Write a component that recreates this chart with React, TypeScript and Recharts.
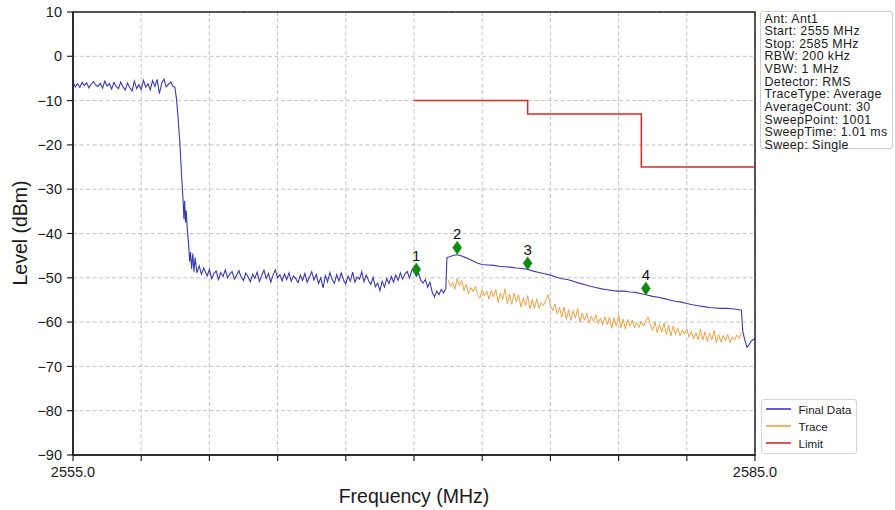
import React from 'react';
import { ComposedChart, Line, Scatter, XAxis, YAxis, CartesianGrid, ReferenceArea } from 'recharts';

const FONT = '"Liberation Sans", Arial, Helvetica, sans-serif';

// Final Data: passband, sampled every 0.1 MHz from 2555.0
const passbandStart = 2555.0;
const passbandLevels = [
  -5.8, -6.9, -6.2, -7.0, -5.9, -6.6, -6.0, -7.1, -6.3, -5.7,
  -6.5, -6.8, -6.1, -7.2, -5.6, -6.7, -6.2, -7.4, -5.9, -6.8,
  -7.3, -5.8, -6.9, -7.6, -6.0, -7.1, -7.8, -5.6, -7.3, -6.4,
  -7.5, -5.4, -7.0, -6.2, -7.6, -5.5, -6.8, -5.2, -8.4, -6.1,
  -5.1, -6.9, -6.3, -5.8, -6.8,
];
// Final Data: band edge (freq, level)
const edgePoints: [number, number][] = [
  [2559.48, -6.9], [2559.55, -9.5], [2559.62, -13.6], [2559.7, -19.6], [2559.78, -27.2],
  [2559.85, -33.2], [2559.88, -36.8], [2559.91, -32.6], [2559.95, -37.5], [2559.98, -34.8],
  [2560.02, -38.6], [2560.08, -42.0], [2560.13, -46.3], [2560.17, -44.2], [2560.22, -48.0],
  [2560.27, -44.5], [2560.32, -48.6], [2560.37, -45.4], [2560.45, -48.9], [2560.55, -47.3],
  [2560.65, -49.2], [2560.75, -47.8],
];
// Final Data: floor, sampled every 0.1 MHz from 2560.8
const floorStart = 2560.8;
const floorLevels = [
  -48.4, -49.6, -48.1, -50.2, -49.0, -48.5, -50.4, -48.8, -49.7, -48.2,
  -50.0, -49.1, -48.6, -50.3, -49.4, -48.4, -49.9, -50.6, -48.9, -49.8,
  -50.9, -49.2, -50.1, -48.7, -50.8, -49.5, -48.3, -50.2, -49.0, -51.0,
  -49.4, -48.2, -50.0, -49.3, -50.7, -49.1, -50.4, -48.9, -50.8, -49.6,
  -50.2, -51.1, -49.4, -50.6, -49.0, -51.0, -49.8, -48.6, -50.5, -49.2,
  -51.3, -50.0, -52.3, -49.5, -50.9, -48.8, -50.4, -51.2, -49.3, -50.7,
  -48.9, -50.5, -51.4, -49.6, -50.8, -48.7, -51.0, -49.8, -50.3, -48.6,
  -50.9, -49.4, -50.6, -51.5, -49.9, -52.0, -51.2, -52.9, -50.8, -52.1,
  -50.2, -51.3, -49.7, -51.0, -49.4, -50.6, -48.9, -50.3, -49.1, -48.6,
  -50.0, -48.4, -47.8, -49.7, -49.0, -50.6, -51.2, -50.4, -52.1, -51.0,
  -53.2, -54.3, -53.0, -53.8, -52.6, -53.4, -52.4,
];
// Final Data: upper band (freq, level)
const upperPoints: [number, number][] = [
  [2571.45, -45.4], [2571.6, -45.2], [2571.75, -44.9], [2571.9, -44.8], [2572.1, -45.1],
  [2572.3, -45.5], [2572.55, -46.1], [2572.8, -46.7], [2573.0, -47.0], [2573.25, -47.1],
  [2573.5, -47.2], [2573.75, -47.4], [2574.0, -47.5], [2574.25, -47.6], [2574.5, -47.8],
  [2574.75, -47.9], [2575.0, -48.1], [2575.25, -48.5], [2575.5, -48.8], [2575.75, -49.1],
  [2576.0, -49.4], [2576.25, -49.8], [2576.5, -50.2], [2576.75, -50.4], [2577.0, -50.8],
  [2577.25, -51.2], [2577.5, -51.5], [2577.75, -51.9], [2578.0, -52.2], [2578.25, -52.5],
  [2578.5, -52.7], [2578.75, -52.9], [2579.0, -53.0], [2579.25, -53.0], [2579.5, -53.2],
  [2579.75, -53.3], [2580.0, -53.6], [2580.25, -53.9], [2580.5, -54.2], [2580.75, -54.4],
  [2581.0, -54.7], [2581.25, -55.0], [2581.5, -55.3], [2581.75, -55.5], [2582.0, -55.8],
  [2582.25, -56.1], [2582.5, -56.3], [2582.75, -56.5], [2583.0, -56.7], [2583.25, -56.8],
  [2583.5, -56.9], [2583.75, -56.9], [2584.0, -57.0], [2584.2, -57.1], [2584.4, -57.3],
  [2584.46, -62.0], [2584.55, -64.0], [2584.65, -65.7], [2584.75, -65.0], [2584.85, -64.2],
  [2585.0, -63.7],
];
// Trace, sampled every 0.1 MHz from 2571.5
const traceStart = 2571.5;
const traceLevels = [
  -50.4, -52.0, -51.1, -52.6, -50.2, -51.8, -50.6, -52.9, -51.5, -53.6,
  -52.2, -53.1, -51.9, -53.8, -54.6, -52.7, -54.1, -53.0, -54.8, -52.9,
  -54.3, -52.6, -55.6, -53.4, -54.9, -52.5, -55.8, -53.7, -56.0, -53.5,
  -55.4, -53.8, -56.6, -54.5, -56.3, -54.0, -57.0, -54.9, -56.9, -54.7,
  -56.8, -55.6, -56.3, -54.9, -53.8, -56.2, -57.4, -55.9, -58.1, -56.7,
  -58.9, -56.6, -59.4, -57.2, -59.6, -57.4, -59.1, -56.9, -60.0, -58.0,
  -59.6, -58.0, -60.1, -58.7, -59.8, -58.4, -60.3, -59.1, -60.6, -58.8,
  -60.6, -58.9, -61.4, -59.0, -60.9, -58.5, -61.3, -59.3, -61.6, -59.4,
  -60.9, -59.5, -61.3, -60.1, -61.2, -59.8, -60.9, -59.6, -58.8, -60.7,
  -61.9, -59.9, -62.4, -60.5, -62.3, -60.2, -62.8, -60.7, -63.1, -60.9,
  -62.8, -61.4, -63.1, -61.8, -62.7, -61.5, -63.4, -62.1, -63.8, -62.4,
  -63.9, -61.6, -64.1, -62.2, -64.4, -62.5, -64.0, -61.9, -64.7, -62.8,
  -64.5, -63.0, -64.2, -62.8, -64.6, -63.3, -64.1, -62.9, -63.7, -62.3,
];
const limitFreq = [2570, 2575, 2575, 2580, 2580, 2585];
const limitLevel = [-10, -10, -13, -13, -25, -25];
const markerFreq = [2570.1, 2571.9, 2575.0, 2580.2];
const markerLevel = [-48.1, -43.2, -46.7, -52.4];
const markerLabels = ['1', '2', '3', '4'];
const xTicks = [2555, 2558, 2561, 2564, 2567, 2570, 2573, 2576, 2579, 2582, 2585];
const yTicks = [-90, -80, -70, -60, -50, -40, -30, -20, -10, 0, 10];
const infoLines = [
  'Ant: Ant1', 'Start: 2555 MHz', 'Stop: 2585 MHz', 'RBW: 200 kHz', 'VBW: 1 MHz',
  'Detector: RMS', 'TraceType: Average', 'AverageCount: 30', 'SweepPoint: 1001',
  'SweepTime: 1.01 ms', 'Sweep: Single',
];

const BLUE = '#3a3ab4';
const ORANGE = '#f0a040';
const RED = '#e02626';
const GREEN = '#0e8a0e';

const r2 = (v: number) => Math.round(v * 100) / 100;
const finalData = [
  ...passbandLevels.map((y, i) => ({ x: r2(passbandStart + i * 0.1), y })),
  ...edgePoints.map(([x, y]) => ({ x, y })),
  ...floorLevels.map((y, i) => ({ x: r2(floorStart + i * 0.1), y })),
  ...upperPoints.map(([x, y]) => ({ x, y })),
];
const traceData = traceLevels.map((y, i) => ({ x: r2(traceStart + i * 0.1), y }));
const limitData = limitFreq.map((x, i) => ({ x, y: limitLevel[i] }));
const markerData = markerFreq.map((x, i) => ({ x, y: markerLevel[i], label: markerLabels[i] }));

const legendItems = [
  { name: 'Final Data', color: BLUE },
  { name: 'Trace', color: ORANGE },
  { name: 'Limit', color: RED },
];

const Diamond = (props: any) => {
  const { cx, cy, payload } = props;
  if (cx == null || cy == null) return null;
  return (
    <g>
      <path d={`M${cx},${cy - 6.5} L${cx + 4.5},${cy} L${cx},${cy + 6.5} L${cx - 4.5},${cy} Z`} fill={GREEN} stroke={GREEN} strokeWidth={0.5} />
      <text x={cx} y={cy - 8.5} textAnchor="middle" fontSize={15} fontFamily={FONT} fill="#111">{payload.label}</text>
    </g>
  );
};

const fmtY = (v: number) => (v < 0 ? '\u2212' + Math.abs(v) : String(v));
const fmtX = (v: number) => (v === 2555 || v === 2585 ? v.toFixed(1) : '');

export default function App() {
  return (
    <div style={{ position: 'absolute', left: 0, top: 0, width: 895, height: 510, background: '#fff', fontFamily: FONT }}>
      <ComposedChart width={895} height={510} margin={{ top: 12, right: 140, bottom: 0, left: 0 }}>
        <CartesianGrid stroke="#b4b4b4" strokeDasharray="4 2.5" strokeWidth={0.8} />
        <XAxis
          type="number"
          dataKey="x"
          domain={[2555, 2585]}
          allowDataOverflow
          ticks={xTicks}
          tickFormatter={fmtX}
          height={55}
          tickSize={6}
          tickMargin={6}
          interval={0}
          stroke="#222"
          axisLine={{ stroke: '#222', strokeWidth: 1.5 }}
          tickLine={{ stroke: '#222', strokeWidth: 1.2 }}
          tick={{ fontSize: 14.5, fill: '#1a1a1a', fontFamily: FONT }}
          label={() => (
            <text x={414} y={502.5} textAnchor="middle" fontSize={19.5} fontFamily={FONT} fill="#1a1a1a">Frequency (MHz)</text>
          )}
        />
        <YAxis
          type="number"
          domain={[-90, 10]}
          allowDataOverflow
          ticks={yTicks}
          tickFormatter={fmtY}
          width={73}
          tickSize={6}
          tickMargin={5}
          interval={0}
          axisLine={{ stroke: '#222', strokeWidth: 1.5 }}
          tickLine={{ stroke: '#222', strokeWidth: 1.2 }}
          tick={{ fontSize: 14.5, fill: '#1a1a1a', fontFamily: FONT }}
          label={() => (
            <text x={27} y={233} transform="rotate(-90, 27, 233)" textAnchor="middle" fontSize={19.5} fontFamily={FONT} fill="#1a1a1a">Level (dBm)</text>
          )}
        />
        <ReferenceArea x1={2555} x2={2585} y1={-90} y2={10} fill="none" fillOpacity={0} stroke="#222" strokeWidth={1.5} />
        <Line data={limitData} dataKey="y" type="linear" stroke={RED} strokeWidth={1.5} dot={false} isAnimationActive={false} />
        <Line data={traceData} dataKey="y" type="linear" stroke={ORANGE} strokeWidth={1} dot={false} isAnimationActive={false} />
        <Line data={finalData} dataKey="y" type="linear" stroke={BLUE} strokeWidth={1.1} dot={false} isAnimationActive={false} />
        <Scatter data={markerData} dataKey="y" shape={Diamond} isAnimationActive={false} />
      </ComposedChart>

      <div style={{ position: 'absolute', left: 759.5, top: 10.5, width: 133, height: 138, border: '1px solid #cfcfcf', borderRadius: 3, background: '#fff', boxSizing: 'border-box', padding: '1px 0 0 4px' }}>
        {infoLines.map((t) => (
          <div key={t} style={{ fontSize: 12.4, lineHeight: '12.65px', height: 12.65, letterSpacing: 0.4, color: '#1a1a1a', whiteSpace: 'nowrap' }}>{t}</div>
        ))}
      </div>

      <div style={{ position: 'absolute', left: 760.5, top: 398.5, width: 96, height: 55, border: '1px solid #d4d4d4', borderRadius: 3, background: '#fff', boxSizing: 'border-box', padding: '1px 0 0 4px' }}>
        {legendItems.map((it) => (
          <div key={it.name} style={{ display: 'flex', alignItems: 'center', height: 17 }}>
            <svg width={25} height={4} style={{ marginRight: 8, display: 'block' }}>
              <line x1={0} y1={2} x2={25} y2={2} stroke={it.color} strokeWidth={1.6} />
            </svg>
            <span style={{ fontSize: 11.6, color: '#1a1a1a', whiteSpace: 'nowrap' }}>{it.name}</span>
          </div>
        ))}
      </div>
    </div>
  );
}
